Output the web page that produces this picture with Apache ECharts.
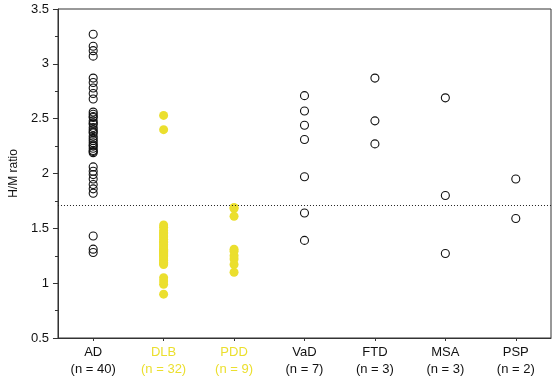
<!DOCTYPE html>
<html>
<head>
<meta charset="utf-8">
<script src="https://cdn.jsdelivr.net/npm/echarts@6/dist/echarts.min.js"></script>
<style>html,body{margin:0;padding:0;background:#fff;}#c{width:553px;height:378px;}</style>
</head>
<body>
<div id="c"></div>
<script>
var categories = ['AD', 'DLB', 'PDD', 'VaD', 'FTD', 'MSA', 'PSP'];
var counts = ['(n = 40)', '(n = 32)', '(n = 9)', '(n = 7)', '(n = 3)', '(n = 3)', '(n = 2)'];
var yTicks = [0.5, 1, 1.5, 2, 2.5, 3, 3.5];
var cutoff = 1.71;

var AD = [3.27, 3.16, 3.12, 3.07, 2.87, 2.83, 2.78, 2.73, 2.68,
  2.56, 2.54, 2.52, 2.51, 2.48, 2.46, 2.45, 2.42, 2.40, 2.38, 2.37, 2.34, 2.32, 2.30, 2.28, 2.26, 2.25, 2.23, 2.21, 2.20, 2.19,
  2.06, 2.02, 1.99, 1.95, 1.90, 1.86, 1.82,
  1.43, 1.31, 1.28];
var DLB = [2.53, 2.40,
  1.53, 1.51, 1.48, 1.46, 1.45, 1.43, 1.42, 1.40, 1.38, 1.37, 1.35, 1.34, 1.32, 1.31, 1.30, 1.29, 1.28, 1.27, 1.26, 1.25, 1.24, 1.22, 1.21, 1.19, 1.18, 1.17,
  1.05, 1.02, 0.99, 0.90];
var PDD = [1.69, 1.68, 1.61, 1.31, 1.29, 1.25, 1.22, 1.17, 1.10];
var VaD = [2.71, 2.57, 2.44, 2.31, 1.97, 1.64, 1.39];
var FTD = [2.87, 2.48, 2.27];
var MSA = [2.69, 1.80, 1.27];
var PSP = [1.95, 1.59];

var groups = [AD, DLB, PDD, VaD, FTD, MSA, PSP];
var yellow = '#ebdf2e';
var filled = [false, true, true, false, false, false, false];
var FONT = 'Liberation Sans, Arial, sans-serif';

var series = groups.map(function (vals, i) {
  return {
    type: 'scatter',
    symbol: 'circle',
    symbolSize: filled[i] ? 9 : 8,
    data: vals.map(function (v) { return [i, v]; }),
    itemStyle: filled[i]
      ? { color: yellow, opacity: 1 }
      : { color: 'rgba(255,255,255,0)', borderColor: '#111', borderWidth: 1.1, opacity: 1 },
    silent: true,
    z: filled[i] ? 3 : 4
  };
});
series[0].markLine = {
  silent: true,
  symbol: 'none',
  label: { show: false },
  lineStyle: { type: [1, 2], color: '#222', width: 1 },
  data: [{ yAxis: cutoff }]
};

var chart = echarts.init(document.getElementById('c'), null, { renderer: 'canvas' });
chart.setOption({
  animation: false,
  backgroundColor: '#fff',
  grid: { left: 51, right: 2, top: 9, bottom: 39, show: true, borderColor: '#333', borderWidth: 1, backgroundColor: 'transparent' },
  xAxis: {
    type: 'category',
    data: categories,
    boundaryGap: true,
    axisLine: { lineStyle: { color: '#333', width: 1 } },
    axisTick: { show: true, alignWithLabel: true, length: 3, lineStyle: { color: '#333' } },
    splitLine: { show: false },
    axisLabel: {
      margin: 6,
      interval: 0,
      fontFamily: FONT,
      fontSize: 13,
      lineHeight: 17,
      formatter: function (v, idx) {
        var st = (idx === 1 || idx === 2) ? 'y' : 'k';
        return '{' + st + '|' + v + '}\n{' + st + '|' + counts[idx] + '}';
      },
      rich: {
        k: { color: '#111', fontSize: 13, lineHeight: 17, fontFamily: FONT },
        y: { color: yellow, fontSize: 13, lineHeight: 17, fontFamily: FONT }
      }
    }
  },
  yAxis: {
    type: 'value',
    min: yTicks[0],
    max: yTicks[yTicks.length - 1],
    interval: 0.5,
    name: 'H/M ratio',
    nameLocation: 'middle',
    nameRotate: 90,
    nameGap: 33,
    nameTextStyle: { color: '#111', fontSize: 12, fontFamily: FONT },
    axisLine: { show: true, lineStyle: { color: '#333', width: 1 } },
    axisTick: { show: true, length: 5, lineStyle: { color: '#333' } },
    minorTick: { show: true, splitNumber: 2, length: 3, lineStyle: { color: '#333' } },
    splitLine: { show: false },
    axisLabel: {
      margin: 9,
      color: '#111',
      fontSize: 13,
      fontFamily: FONT,
      formatter: function (v) { return String(v); }
    }
  },
  series: series
});
</script>
</body>
</html>
